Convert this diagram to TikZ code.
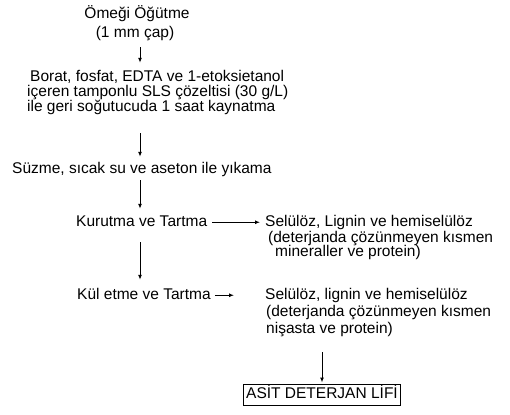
\documentclass[tikz,border=0pt]{standalone}
\usepackage{fontspec}
\setmainfont{Liberation Sans}
\usetikzlibrary{arrows.meta}
\begin{document}
\begin{tikzpicture}[x=1pt,y=-1pt,
  txt/.style={inner sep=0pt, text height=11pt, text depth=3.5pt, font=\fontsize{15.5}{17}\selectfont},
  arr/.style={line width=1pt, -{Latex[length=5pt,width=4pt]}},
  boxed/.style={txt, draw, line width=1pt, minimum width=157pt, minimum height=21pt}]
\useasboundingbox (0,0) rectangle (510,414);
\coordinate (ax) at (140,0);
% left column
\node[txt, anchor=base] (omegi1) at (137,19) {Ömeği Öğütme};
\node[txt, anchor=base] (omegi2) at (135,38) {(1 mm çap)};
\node[txt, anchor=base west] (borat1) at (30,82) {Borat, fosfat, EDTA ve 1-etoksietanol};
\node[txt, anchor=base west] (borat2) at (27,97) {içeren tamponlu SLS çözeltisi (30 g/L)};
\node[txt, anchor=base west] (borat3) at (27,112) {ile geri soğutucuda 1 saat kaynatma};
\node[txt, anchor=base west] (suzme) at (12,173) {Süzme, sıcak su ve aseton ile yıkama};
\node[txt, anchor=base west] (kurutma) at (76,226) {Kurutma ve Tartma};
\node[txt, anchor=base west] (kul) at (77,299) {Kül etme ve Tartma};
% right column
\node[txt, anchor=base west] (sela1) at (265,226) {Selülöz, Lignin ve hemiselülöz};
\node[txt, anchor=base west] (sela2) at (268,242) {(deterjanda çözünmeyen kısmen};
\node[txt, anchor=base west] (sela3) at (275,256) {mineraller ve protein)};
\node[txt, anchor=base west] (selb1) at (265,299) {Selülöz, lignin ve hemiselülöz};
\node[txt, anchor=base west] (selb2) at (266,316) {(deterjanda çözünmeyen kısmen};
\node[txt, anchor=base west] (selb3) at (266,333) {nişasta ve protein)};
\node[boxed] (lif) at (322,394.5) {ASİT DETERJAN LİFİ};
% connectors
\draw[arr, shorten <=5.5pt, shorten >=8pt] (omegi2.south -| ax) -- (borat1.north -| ax);
\draw[arr, shorten <=17.5pt, shorten >=5pt] (borat3.south -| ax) -- (suzme.north -| ax);
\draw[arr, shorten <=3.5pt, shorten >=6pt] (suzme.south -| ax) -- (kurutma.north -| ax);
\draw[arr, shorten <=12.5pt, shorten >=8pt] (kurutma.south -| ax) -- (kul.north -| ax);
\draw[arr, shorten <=5pt, shorten >=5pt] (kurutma.east) -- (sela1.west);
\draw[arr, shorten <=4pt, shorten >=31pt] (kul.east) -- (selb1.west);
\draw[arr, shorten <=15.5pt, shorten >=1pt] (selb3.south -| lif.north) -- (lif.north);
\end{tikzpicture}
\end{document}
